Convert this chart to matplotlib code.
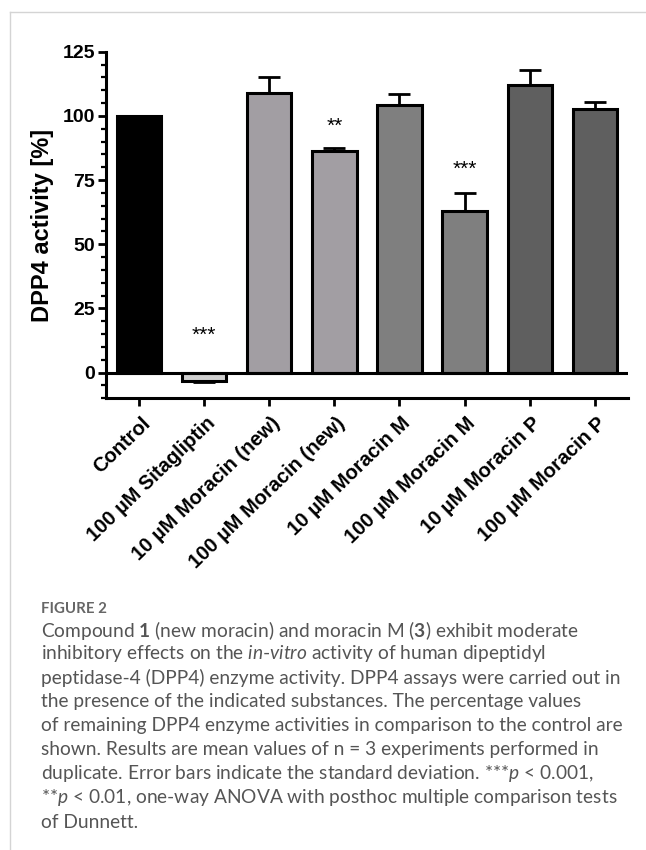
import matplotlib
matplotlib.use("Agg")
import matplotlib.pyplot as plt
from matplotlib.ticker import MultipleLocator
from matplotlib.lines import Line2D
from matplotlib.transforms import ScaledTranslation

# data
groups = ["Control", "100 µM Sitagliptin", "10 µM Moracin (new)",
          "100 µM Moracin (new)", "10 µM Moracin M", "100 µM Moracin M",
          "10 µM Moracin P", "100 µM Moracin P"]
activity = [100.0, -3.2, 109.0, 86.5, 104.3, 63.1, 112.0, 102.6]
sd = [0.0, 0.6, 6.3, 0.8, 4.1, 6.7, 5.7, 2.8]
stars = ["", "***", "", "**", "", "***", "", ""]
star_y = [0, 16.8, 0, 98.4, 0, 81.6, 0, 0]
bar_colors = ["#000000", "#d0d0d0", "#a29ea3", "#a29ea3",
              "#7f7f7f", "#7f7f7f", "#5f5f5f", "#5f5f5f"]

caption_title = "FIGURE 2"
caption_lines = [
    r"Compound $\mathbf{1}$ (new moracin) and moracin M ($\mathbf{3}$) exhibit moderate",
    r"inhibitory effects on the $\mathit{in}$-$\mathit{vitro}$ activity of human dipeptidyl",
    "peptidase-4 (DPP4) enzyme activity. DPP4 assays were carried out in",
    "the presence of the indicated substances. The percentage values",
    "of remaining DPP4 enzyme activities in comparison to the control are",
    "shown. Results are mean values of n = 3 experiments performed in",
    r"duplicate. Error bars indicate the standard deviation. ***$\mathit{p}$ < 0.001,",
    r"**$\mathit{p}$ < 0.01, one-way ANOVA with posthoc multiple comparison tests",
    "of Dunnett.",
]

plt.rcParams["mathtext.fontset"] = "custom"
plt.rcParams["mathtext.rm"] = "Lato"
plt.rcParams["mathtext.it"] = "Lato:italic"
plt.rcParams["mathtext.bf"] = "Lato:bold"

fig = plt.figure(figsize=(6.46, 8.5), dpi=100)
ax = fig.add_axes([0.164, 0.5314, 0.808, 0.4078])

x = list(range(len(groups)))
ax.bar(x, activity, width=0.68, color=bar_colors, edgecolor="black",
       linewidth=2.2, zorder=3)

for xi, v, s in zip(x, activity, sd):
    if s <= 0:
        continue
    err = [[0], [s]] if v >= 0 else [[s], [0]]
    ax.errorbar([xi], [v], yerr=err, fmt="none", ecolor="black",
                elinewidth=2, capsize=8, capthick=2, zorder=2)

for xi, st, sy in zip(x, stars, star_y):
    if st:
        ax.annotate(st, xy=(xi, sy), xytext=(0, -8.5), textcoords="offset points",
                    ha="center", va="baseline", fontsize=15,
                    family="Liberation Sans")

ax.axhline(0, color="black", lw=2.2, zorder=4)

ax.set_xlim(-0.51, 7.51)
ax.set_ylim(-10, 125)
ax.yaxis.set_major_locator(MultipleLocator(25))
ax.yaxis.set_minor_locator(MultipleLocator(5))
for sp in ["top", "right"]:
    ax.spines[sp].set_visible(False)
for sp in ["left", "bottom"]:
    ax.spines[sp].set_linewidth(2.2)

ax.tick_params(axis="y", which="major", length=6, width=2, pad=2)
ax.tick_params(axis="y", which="minor", length=3.5, width=1.6)
ax.tick_params(axis="x", length=6, width=2, pad=5)
for lab in ax.get_yticklabels():
    lab.set_fontsize(14)
    lab.set_fontweight("bold")
    lab.set_family("Liberation Sans")

ax.set_xticks(x)
ax.set_xticklabels(groups, rotation=44, ha="right", va="top",
                   rotation_mode="anchor", fontsize=14.5, fontweight="bold",
                   family="Liberation Sans")
shift = ScaledTranslation(1 / 72, 0, fig.dpi_scale_trans)
for lab in ax.get_xticklabels():
    lab.set_transform(lab.get_transform() + shift)

ax.set_ylabel("DPP4 activity [%]", fontsize=17, fontweight="bold",
              family="Liberation Sans", labelpad=6)

# page border lines
fig.add_artist(Line2D([10 / 646, 1], [1 - 12 / 850] * 2, transform=fig.transFigure,
                      color="#d4d4d4", lw=1))
fig.add_artist(Line2D([10 / 646] * 2, [0, 1 - 12 / 850], transform=fig.transFigure,
                      color="#d4d4d4", lw=1))

left = 41 / 646
fig.text(left, 1 - 609 / 850, caption_title, fontsize=10.8, fontweight="bold",
         family="Lato", color="#666666", va="center")
for i, line in enumerate(caption_lines):
    fig.text(left, 1 - (630 + 24 * i) / 850, line, fontsize=13.8,
             family="Lato", color="#555555", va="center")

fig.savefig("out.png", dpi=100)
